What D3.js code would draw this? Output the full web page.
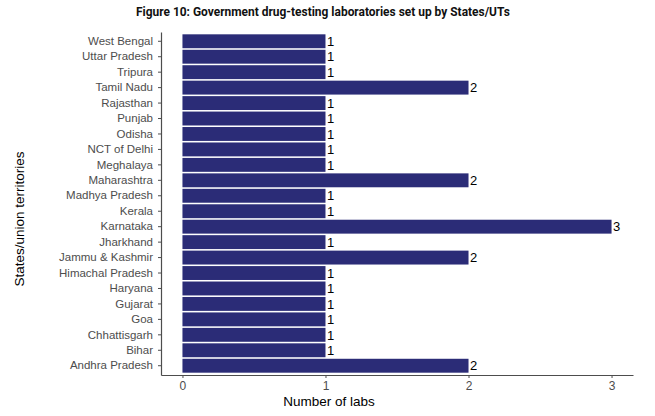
<!DOCTYPE html>
<html>
<head>
<meta charset="utf-8">
<script src="https://cdn.jsdelivr.net/npm/d3@7"></script>
<style>
  body { margin: 0; background: #fff; }
  svg { font-family: "Liberation Sans", Arial, sans-serif; }
</style>
</head>
<body>
<div class="chart-div"></div>
<script>
var states = ["Andhra Pradesh", "Bihar", "Chhattisgarh", "Goa", "Gujarat", "Haryana",
  "Himachal Pradesh", "Jammu & Kashmir", "Jharkhand", "Karnataka", "Kerala",
  "Madhya Pradesh", "Maharashtra", "Meghalaya", "NCT of Delhi", "Odisha", "Punjab",
  "Rajasthan", "Tamil Nadu", "Tripura", "Uttar Pradesh", "West Bengal"];
var labs = [2, 1, 1, 1, 1, 1, 1, 2, 1, 3, 1, 1, 2, 1, 1, 1, 1, 1, 2, 1, 1, 1];
var xTicks = [0, 1, 2, 3];

var width = 655;
var height = 416;
var plotLeft = 161, plotRight = 633, plotTop = 32, plotBottom = 375;

const svg = d3.select(".chart-div").append("svg")
    .attr("width", width)
    .attr("height", height);

// x: 0..3 with ggplot style 5% expansion
const x = d3.scaleLinear()
    .domain([-0.15, 3.15])
    .range([plotLeft, plotRight]);

// reversed so Andhra Pradesh sits at the bottom
const y = d3.scaleBand()
    .domain(states.slice().reverse())
    .range([plotTop, plotBottom])
    .paddingInner(0.1)
    .paddingOuter(0.15);

const g = svg.append("g");

g.selectAll("rect.bar")
    .data(states)
    .enter().append("rect")
    .attr("class", "bar")
    .attr("x", x(0))
    .attr("y", d => y(d))
    .attr("width", (d, i) => x(labs[i]) - x(0))
    .attr("height", y.bandwidth())
    .attr("fill", "#2b2c77");

g.selectAll("text.val")
    .data(states)
    .enter().append("text")
    .attr("class", "val")
    .attr("x", (d, i) => x(labs[i]) + 1.5)
    .attr("y", d => y(d) + y.bandwidth() / 2)
    .attr("dy", "0.36em")
    .attr("font-size", 13)
    .attr("fill", "#000")
    .text((d, i) => labs[i]);

// axes
const xAxis = svg.append("g")
    .attr("transform", "translate(0," + plotBottom + ")")
    .call(d3.axisBottom(x).tickValues(xTicks).tickFormat(d3.format("d"))
        .tickSize(3).tickPadding(3).tickSizeOuter(0));
xAxis.select(".domain").attr("stroke", "#4d4d4d").attr("stroke-width", 1.2);
xAxis.selectAll(".tick line").attr("stroke", "#4d4d4d");
xAxis.selectAll(".tick text").attr("fill", "#4d4d4d").attr("font-size", 12)
    .attr("font-family", "Liberation Sans, Arial, sans-serif");

const yAxis = svg.append("g")
    .attr("transform", "translate(" + plotLeft + ",0)")
    .call(d3.axisLeft(y).tickSize(3).tickPadding(5).tickSizeOuter(0));
yAxis.select(".domain").attr("stroke", "#4d4d4d").attr("stroke-width", 1.2);
yAxis.selectAll(".tick line").attr("stroke", "#4d4d4d");
yAxis.selectAll(".tick text").attr("fill", "#4d4d4d").attr("font-size", 11.5)
    .attr("font-family", "Liberation Sans, Arial, sans-serif");

// titles
svg.append("text")
    .attr("x", 323)
    .attr("y", 15.5)
    .attr("text-anchor", "middle")
    .attr("font-family", "Roboto, sans-serif")
    .attr("font-weight", "bold")
    .attr("font-size", 12)
    .attr("textLength", 374)
    .attr("lengthAdjust", "spacingAndGlyphs")
    .attr("fill", "#111")
    .text("Figure 10: Government drug-testing laboratories set up by States/UTs");

svg.append("text")
    .attr("x", 329)
    .attr("y", 406)
    .attr("text-anchor", "middle")
    .attr("font-size", 13.5)
    .attr("fill", "#000")
    .text("Number of labs");

svg.append("text")
    .attr("transform", "translate(24,219) rotate(-90)")
    .attr("text-anchor", "middle")
    .attr("font-size", 13.5)
    .attr("fill", "#000")
    .text("States/union territories");
</script>
</body>
</html>
